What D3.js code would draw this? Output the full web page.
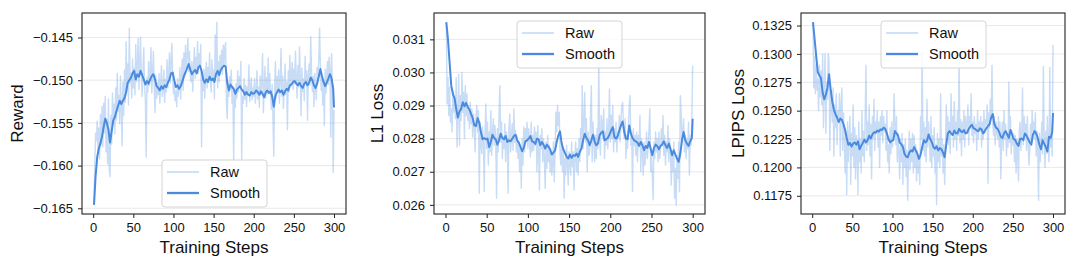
<!DOCTYPE html>
<html><head><meta charset="utf-8">
<script src="https://cdn.jsdelivr.net/npm/d3@7"></script>
<style>
body{margin:0;background:#fff;}
svg text{font-family:"Liberation Sans",Arial,Helvetica,sans-serif;fill:#111;}
</style></head>
<body><svg id="chart" width="1080" height="270"></svg>
<script>
const steps = d3.range(1, 301);
const smoothSteps = [...d3.range(1, 301, 2), 300];
const stepTicks = [0, 50, 100, 150, 200, 250, 300];

const rewardTicks = [-0.165, -0.160, -0.155, -0.150, -0.145];
const l1Ticks = [0.026, 0.027, 0.028, 0.029, 0.030, 0.031];
const lpipsTicks = [0.1175, 0.1200, 0.1225, 0.1250, 0.1275, 0.1300, 0.1325];

const rewardRaw = [
-0.1645,-0.1598,-0.1562,-0.1571,-0.1548,-0.1583,-0.1556,-0.1592,-0.1540,-0.1575,
-0.1531,-0.1578,-0.1527,-0.1562,-0.1519,-0.1584,-0.1546,-0.1598,-0.1522,-0.1605,
-0.1613,-0.1541,-0.1575,-0.1515,-0.1552,-0.1528,-0.1563,-0.1509,-0.1547,-0.1492,
-0.1537,-0.1518,-0.1551,-0.1495,-0.1532,-0.1577,-0.1502,-0.1541,-0.1488,-0.1526,
-0.1455,-0.1513,-0.1481,-0.1529,-0.1439,-0.1503,-0.1492,-0.1521,-0.1475,-0.1509,
-0.1486,-0.1517,-0.1458,-0.1502,-0.1483,-0.1451,-0.1511,-0.1479,-0.1450,-0.1497,
-0.1519,-0.1486,-0.1462,-0.1508,-0.1523,-0.1590,-0.1497,-0.1514,-0.1478,-0.1506,
-0.1488,-0.1462,-0.1515,-0.1491,-0.1466,-0.1508,-0.1538,-0.1494,-0.1521,-0.1503,
-0.1517,-0.1492,-0.1527,-0.1505,-0.1483,-0.1519,-0.1511,-0.1488,-0.1526,-0.1499,
-0.1514,-0.1476,-0.1509,-0.1492,-0.1468,-0.1503,-0.1479,-0.1457,-0.1495,-0.1516,
-0.1502,-0.1524,-0.1513,-0.1531,-0.1498,-0.1519,-0.1507,-0.1485,-0.1522,-0.1494,
-0.1475,-0.1512,-0.1468,-0.1497,-0.1459,-0.1486,-0.1471,-0.1451,-0.1490,-0.1466,
-0.1495,-0.1502,-0.1478,-0.1513,-0.1484,-0.1462,-0.1498,-0.1473,-0.1489,-0.1455,
-0.1492,-0.1469,-0.1482,-0.1458,-0.1578,-0.1496,-0.1512,-0.1487,-0.1521,-0.1493,
-0.1479,-0.1509,-0.1485,-0.1503,-0.1468,-0.1497,-0.1514,-0.1476,-0.1501,-0.1488,
-0.1522,-0.1447,-0.1494,-0.1432,-0.1509,-0.1478,-0.1502,-0.1471,-0.1486,-0.1465,
-0.1493,-0.1459,-0.1482,-0.1461,-0.1456,-0.1528,-0.1545,-0.1502,-0.1519,-0.1496,
-0.1511,-0.1488,-0.1527,-0.1507,-0.1595,-0.1518,-0.1532,-0.1504,-0.1521,-0.1489,
-0.1514,-0.1496,-0.1508,-0.1478,-0.1593,-0.1519,-0.1527,-0.1498,-0.1522,-0.1506,
-0.1531,-0.1508,-0.1517,-0.1482,-0.1525,-0.1511,-0.1497,-0.1523,-0.1509,-0.1519,
-0.1498,-0.1527,-0.1514,-0.1489,-0.1522,-0.1508,-0.1532,-0.1495,-0.1517,-0.1503,
-0.1469,-0.1538,-0.1512,-0.1484,-0.1521,-0.1497,-0.1516,-0.1474,-0.1511,-0.1492,
-0.1519,-0.1534,-0.1505,-0.1548,-0.1589,-0.1512,-0.1478,-0.1521,-0.1496,-0.1515,
-0.1488,-0.1527,-0.1501,-0.1463,-0.1519,-0.1495,-0.1533,-0.1508,-0.1481,-0.1517,
-0.1502,-0.1558,-0.1489,-0.1514,-0.1471,-0.1508,-0.1493,-0.1479,-0.1511,-0.1487,
-0.1504,-0.1466,-0.1497,-0.1521,-0.1483,-0.1508,-0.1461,-0.1495,-0.1542,-0.1486,
-0.1513,-0.1498,-0.1524,-0.1472,-0.1505,-0.1489,-0.1547,-0.1494,-0.1481,-0.1506,
-0.1449,-0.1488,-0.1513,-0.1496,-0.1531,-0.1492,-0.1508,-0.1523,-0.1485,-0.1501,
-0.1476,-0.1439,-0.1482,-0.1512,-0.1494,-0.1529,-0.1501,-0.1553,-0.1487,-0.1515,
-0.1492,-0.1478,-0.1505,-0.1473,-0.1488,-0.1567,-0.1469,-0.1512,-0.1608,-0.1535
];
const rewardSmooth = [
-0.1646,-0.1612,-0.1590,-0.1580,-0.1574,-0.1566,-0.1555,-0.1545,-0.1550,-0.1558,
-0.1573,-0.1560,-0.1547,-0.1543,-0.1536,-0.1530,-0.1524,-0.1528,-0.1524,-0.1521,
-0.1514,-0.1503,-0.1500,-0.1497,-0.1492,-0.1489,-0.1499,-0.1493,-0.1496,-0.1489,
-0.1494,-0.1499,-0.1505,-0.1501,-0.1504,-0.1499,-0.1495,-0.1493,-0.1499,-0.1507,
-0.1509,-0.1512,-0.1507,-0.1510,-0.1506,-0.1508,-0.1503,-0.1499,-0.1492,-0.1491,
-0.1500,-0.1508,-0.1506,-0.1510,-0.1507,-0.1502,-0.1495,-0.1491,-0.1486,-0.1481,
-0.1488,-0.1493,-0.1490,-0.1488,-0.1492,-0.1485,-0.1483,-0.1489,-0.1499,-0.1503,
-0.1499,-0.1502,-0.1496,-0.1500,-0.1498,-0.1502,-0.1493,-0.1489,-0.1494,-0.1488,
-0.1485,-0.1483,-0.1484,-0.1503,-0.1512,-0.1505,-0.1508,-0.1510,-0.1516,-0.1511,
-0.1509,-0.1507,-0.1511,-0.1513,-0.1517,-0.1514,-0.1517,-0.1518,-0.1514,-0.1516,
-0.1515,-0.1512,-0.1514,-0.1517,-0.1513,-0.1516,-0.1520,-0.1514,-0.1512,-0.1515,
-0.1513,-0.1519,-0.1531,-0.1518,-0.1514,-0.1511,-0.1514,-0.1512,-0.1517,-0.1513,
-0.1510,-0.1512,-0.1506,-0.1505,-0.1502,-0.1501,-0.1504,-0.1506,-0.1503,-0.1507,
-0.1509,-0.1504,-0.1502,-0.1506,-0.1503,-0.1497,-0.1500,-0.1506,-0.1509,-0.1504,
-0.1496,-0.1487,-0.1495,-0.1502,-0.1507,-0.1503,-0.1498,-0.1493,-0.1498,-0.1510,
-0.1532
];

const l1Raw = [
0.03150,0.02905,0.02985,0.02870,0.02955,0.02850,0.02890,0.02820,0.02945,0.02880,
0.02915,0.02860,0.02985,0.02775,0.02870,0.02995,0.02780,0.02930,0.02855,0.03000,
0.02880,0.02940,0.02800,0.02960,0.02870,0.02935,0.02855,0.02900,0.02830,0.02910,
0.02845,0.02890,0.02805,0.02875,0.02830,0.02760,0.02870,0.02900,0.02820,0.02885,
0.02635,0.02850,0.02780,0.02755,0.02835,0.02790,0.02640,0.02815,0.02905,0.02770,
0.02850,0.02720,0.02820,0.02760,0.02885,0.02750,0.02810,0.02860,0.02780,0.02840,
0.02795,0.02620,0.02830,0.02760,0.02870,0.02960,0.02790,0.02850,0.02740,0.02805,
0.02770,0.02845,0.02730,0.02820,0.02790,0.02635,0.02830,0.02875,0.02760,0.02810,
0.02845,0.02765,0.02890,0.02790,0.02825,0.02760,0.02810,0.02740,0.02790,0.02700,
0.02770,0.02650,0.02800,0.02720,0.02835,0.02760,0.02830,0.02790,0.02850,0.02770,
0.02830,0.02800,0.02745,0.02850,0.02760,0.02810,0.02765,0.02835,0.02780,0.02820,
0.02700,0.02840,0.02760,0.02645,0.02810,0.02770,0.02830,0.02730,0.02800,0.02740,
0.02650,0.02790,0.02710,0.02810,0.02730,0.02780,0.02700,0.02760,0.02690,0.02720,
0.02790,0.02670,0.02760,0.02880,0.02820,0.02900,0.02840,0.02880,0.02760,0.02720,
0.02790,0.02700,0.02770,0.02620,0.02740,0.02690,0.02780,0.02720,0.02660,0.02760,
0.02730,0.02690,0.02790,0.02715,0.02760,0.02645,0.02745,0.02790,0.02700,0.02770,
0.02690,0.02800,0.02730,0.02830,0.02785,0.02960,0.02770,0.02850,0.02940,0.02790,
0.02860,0.02700,0.02820,0.02750,0.02760,0.02870,0.02960,0.02730,0.02850,0.02800,
0.02730,0.02810,0.02740,0.02830,0.02770,0.03040,0.02810,0.02750,0.02870,0.02850,
0.02800,0.02890,0.02740,0.02820,0.02780,0.02860,0.02770,0.02830,0.02950,0.02790,
0.02870,0.02800,0.02900,0.02760,0.02830,0.02790,0.02850,0.02760,0.02820,0.02800,
0.02870,0.02790,0.02860,0.02900,0.02910,0.02830,0.02800,0.02860,0.02740,0.02810,
0.02770,0.02840,0.02900,0.02930,0.02780,0.02820,0.02640,0.02830,0.02780,0.02810,
0.02750,0.02820,0.02730,0.02810,0.02780,0.02870,0.02700,0.02800,0.02760,0.02690,
0.02790,0.02720,0.02750,0.02820,0.02740,0.02780,0.02830,0.02890,0.02700,0.02760,
0.02690,0.02615,0.02790,0.02740,0.02820,0.02760,0.02800,0.02730,0.02820,0.02740,
0.02770,0.02830,0.02780,0.02870,0.02750,0.02810,0.02720,0.02790,0.02760,0.02840,
0.02730,0.02800,0.02760,0.02660,0.02750,0.02700,0.02790,0.02620,0.02710,0.02600,
0.02750,0.02680,0.02790,0.02640,0.02930,0.02880,0.02790,0.02820,0.02860,0.02760,
0.02810,0.02740,0.02800,0.02770,0.02850,0.02690,0.02810,0.02780,0.02860,0.03020
];
const l1Smooth = [
0.03152,0.03100,0.03030,0.02960,0.02935,0.02922,0.02890,0.02864,0.02882,0.02890,
0.02910,0.02898,0.02908,0.02895,0.02888,0.02875,0.02862,0.02840,0.02838,0.02862,
0.02848,0.02820,0.02798,0.02802,0.02798,0.02800,0.02775,0.02790,0.02812,0.02802,
0.02798,0.02782,0.02795,0.02815,0.02802,0.02798,0.02808,0.02790,0.02795,0.02792,
0.02800,0.02808,0.02812,0.02795,0.02788,0.02775,0.02762,0.02772,0.02792,0.02795,
0.02800,0.02808,0.02792,0.02790,0.02784,0.02800,0.02798,0.02780,0.02790,0.02782,
0.02770,0.02782,0.02775,0.02768,0.02752,0.02758,0.02765,0.02790,0.02810,0.02822,
0.02785,0.02768,0.02757,0.02745,0.02740,0.02752,0.02742,0.02750,0.02748,0.02755,
0.02745,0.02760,0.02770,0.02795,0.02815,0.02802,0.02795,0.02780,0.02795,0.02812,
0.02792,0.02780,0.02785,0.02810,0.02818,0.02822,0.02795,0.02798,0.02802,0.02812,
0.02825,0.02835,0.02805,0.02800,0.02808,0.02825,0.02840,0.02852,0.02820,0.02800,
0.02798,0.02840,0.02815,0.02802,0.02795,0.02792,0.02788,0.02778,0.02790,0.02780,
0.02765,0.02778,0.02772,0.02790,0.02770,0.02750,0.02772,0.02782,0.02778,0.02768,
0.02778,0.02782,0.02792,0.02780,0.02772,0.02785,0.02770,0.02750,0.02765,0.02752,
0.02740,0.02730,0.02755,0.02795,0.02820,0.02795,0.02785,0.02778,0.02792,0.02802,
0.02860
];

const lpipsRaw = [
0.1327,0.1270,0.1298,0.1265,0.1290,0.1268,0.1278,0.1250,0.1290,0.1262,
0.1285,0.1255,0.1300,0.1235,0.1270,0.1300,0.1230,0.1275,0.1260,0.1300,
0.1292,0.1215,0.1265,0.1255,0.1240,0.1270,0.1210,0.1255,0.1235,0.1265,
0.1220,0.1250,0.1240,0.1265,0.1210,0.1255,0.1270,0.1215,0.1248,0.1225,
0.1195,0.1232,0.1176,0.1240,0.1205,0.1228,0.1245,0.1185,0.1230,0.1210,
0.1255,0.1200,0.1235,0.1190,0.1228,0.1215,0.1176,0.1240,0.1205,0.1225,
0.1195,0.1250,0.1210,0.1232,0.1205,0.1245,0.1290,0.1215,0.1240,0.1220,
0.1255,0.1210,0.1238,0.1190,0.1245,0.1225,0.1260,0.1215,0.1240,0.1230,
0.1250,0.1218,0.1240,0.1200,0.1245,0.1228,0.1250,0.1222,0.1245,0.1232,
0.1238,0.1215,0.1250,0.1205,0.1220,0.1195,0.1235,0.1212,0.1240,0.1218,
0.1228,0.1265,0.1238,0.1220,0.1245,0.1205,0.1230,0.1212,0.1190,0.1225,
0.1205,0.1230,0.1185,0.1220,0.1200,0.1225,0.1192,0.1215,0.1171,0.1210,
0.1232,0.1198,0.1225,0.1205,0.1230,0.1195,0.1228,0.1200,0.1220,0.1188,
0.1215,0.1195,0.1210,0.1185,0.1245,0.1225,0.1302,0.1215,0.1240,0.1210,
0.1235,0.1205,0.1260,0.1218,0.1240,0.1225,0.1205,0.1245,0.1200,0.1228,
0.1210,0.1235,0.1195,0.1220,0.1167,0.1230,0.1205,0.1225,0.1200,0.1265,
0.1210,0.1225,0.1195,0.1220,0.1185,0.1215,0.1255,0.1228,0.1245,0.1220,
0.1240,0.1212,0.1265,0.1230,0.1245,0.1218,0.1258,0.1225,0.1240,0.1215,
0.1250,0.1228,0.1295,0.1222,0.1242,0.1210,0.1240,0.1225,0.1250,0.1218,
0.1245,0.1230,0.1238,0.1255,0.1220,0.1245,0.1235,0.1265,0.1228,0.1240,
0.1222,0.1245,0.1230,0.1238,0.1215,0.1250,0.1225,0.1240,0.1232,0.1245,
0.1218,0.1240,0.1225,0.1250,0.1230,0.1242,0.1238,0.1255,0.1186,0.1248,
0.1235,0.1260,0.1245,0.1290,0.1238,0.1228,0.1245,0.1220,0.1240,0.1232,
0.1225,0.1245,0.1218,0.1240,0.1190,0.1228,0.1240,0.1215,0.1250,0.1225,
0.1238,0.1210,0.1230,0.1218,0.1275,0.1222,0.1245,0.1212,0.1232,0.1220,
0.1230,0.1205,0.1228,0.1195,0.1225,0.1212,0.1188,0.1232,0.1240,0.1215,
0.1228,0.1270,0.1220,0.1245,0.1232,0.1238,0.1215,0.1245,0.1222,0.1202,
0.1215,0.1238,0.1220,0.1250,0.1232,0.1240,0.1225,0.1248,0.1210,0.1232,
0.1215,0.1171,0.1230,0.1205,0.1222,0.1240,0.1212,0.1289,0.1228,0.1200,
0.1232,0.1212,0.1245,0.1220,0.1205,0.1288,0.1218,0.1235,0.1210,0.1308
];
const lpipsSmooth = [
0.13280,0.13130,0.12980,0.12840,0.12810,0.12785,0.12660,0.12600,0.12640,0.12700,
0.12820,0.12690,0.12580,0.12510,0.12470,0.12440,0.12400,0.12430,0.12420,0.12380,
0.12330,0.12260,0.12200,0.12215,0.12185,0.12210,0.12220,0.12200,0.12230,0.12160,
0.12190,0.12215,0.12245,0.12220,0.12240,0.12280,0.12255,0.12290,0.12310,0.12305,
0.12325,0.12315,0.12335,0.12330,0.12350,0.12340,0.12300,0.12250,0.12220,0.12235,
0.12240,0.12320,0.12300,0.12280,0.12220,0.12205,0.12180,0.12120,0.12095,0.12090,
0.12130,0.12150,0.12140,0.12180,0.12150,0.12120,0.12075,0.12110,0.12180,0.12240,
0.12220,0.12235,0.12290,0.12250,0.12225,0.12180,0.12165,0.12185,0.12150,0.12170,
0.12160,0.12130,0.12090,0.12200,0.12300,0.12320,0.12300,0.12285,0.12325,0.12300,
0.12300,0.12340,0.12320,0.12310,0.12330,0.12300,0.12305,0.12340,0.12360,0.12375,
0.12345,0.12340,0.12325,0.12320,0.12345,0.12335,0.12300,0.12320,0.12345,0.12365,
0.12380,0.12440,0.12470,0.12380,0.12350,0.12340,0.12310,0.12270,0.12260,0.12300,
0.12320,0.12290,0.12260,0.12330,0.12290,0.12250,0.12240,0.12210,0.12190,0.12250,
0.12255,0.12240,0.12300,0.12280,0.12250,0.12220,0.12200,0.12290,0.12320,0.12300,
0.12260,0.12200,0.12160,0.12240,0.12210,0.12180,0.12140,0.12270,0.12260,0.12310,
0.12480
];

const panels = [
  {left: 82,  right: 346,  ylabelX: 23,  ylabel: "Reward",     raw: rewardRaw, smooth: rewardSmooth, ticks: rewardTicks, fmt: d3.format(".3f"), legend: {x: 162, y: 160}},
  {left: 434, right: 705,  ylabelX: 383, ylabel: "L1 Loss",    raw: l1Raw,     smooth: l1Smooth,     ticks: l1Ticks,     fmt: d3.format(".3f"), legend: {x: 517, y: 21}},
  {left: 801, right: 1065, ylabelX: 744, ylabel: "LPIPS Loss", raw: lpipsRaw,  smooth: lpipsSmooth,  ticks: lpipsTicks,  fmt: d3.format(".4f"), legend: {x: 881, y: 21}}
];

const plotTop = 13, plotBottom = 214;
const blue = "#4a8be0";
const svg = d3.select("#chart");
svg.append("rect").attr("width", 1080).attr("height", 270).attr("fill", "#fff");

panels.forEach((p, i) => {
  const xs = d3.extent(steps);
  const xpad = (xs[1] - xs[0]) * 0.05;
  const x = d3.scaleLinear().domain([xs[0] - xpad, xs[1] + xpad]).range([p.left, p.right]);
  const all = p.raw.concat(p.smooth);
  const ys = d3.extent(all);
  const ypad = (ys[1] - ys[0]) * 0.05;
  const y = d3.scaleLinear().domain([ys[0] - ypad, ys[1] + ypad]).range([plotBottom, plotTop]);

  const g = svg.append("g");
  const clipId = "clip" + i;
  g.append("clipPath").attr("id", clipId).append("rect")
    .attr("x", p.left).attr("y", plotTop).attr("width", p.right - p.left).attr("height", plotBottom - plotTop);

  g.append("g").selectAll("line").data(p.ticks).join("line")
    .attr("x1", p.left).attr("x2", p.right)
    .attr("y1", d => y(d)).attr("y2", d => y(d))
    .attr("stroke", "#e6e6e6").attr("stroke-width", 0.9);

  const line = d3.line().x(d => x(d[0])).y(d => y(d[1]));
  const plot = g.append("g").attr("clip-path", `url(#${clipId})`);
  plot.append("path").datum(steps.map((s, k) => [s, p.raw[k]]))
    .attr("d", line).attr("fill", "none").attr("stroke", blue)
    .attr("stroke-opacity", 0.3).attr("stroke-width", 1.4).attr("stroke-linejoin", "round");
  plot.append("path").datum(smoothSteps.map((s, k) => [s, p.smooth[k]]))
    .attr("d", line).attr("fill", "none").attr("stroke", blue)
    .attr("stroke-width", 2).attr("stroke-linejoin", "round");

  const xAxis = d3.axisBottom(x).tickValues(stepTicks).tickSize(4).tickPadding(5).tickFormat(d3.format("d"));
  const gx = g.append("g").attr("transform", `translate(0,${plotBottom})`).call(xAxis);
  const yAxis = d3.axisLeft(y).tickValues(p.ticks).tickSize(4).tickPadding(5).tickFormat(p.fmt);
  const gy = g.append("g").attr("transform", `translate(${p.left},0)`).call(yAxis);
  [gx, gy].forEach(a => {
    a.select(".domain").remove();
    a.selectAll(".tick line").attr("stroke", "#222").attr("stroke-width", 1);
    a.selectAll(".tick text").attr("font-size", 13).attr("fill", "#111")
      .attr("font-family", '"Liberation Sans", Arial, sans-serif');
  });

  g.append("rect").attr("x", p.left).attr("y", plotTop)
    .attr("width", p.right - p.left).attr("height", plotBottom - plotTop)
    .attr("fill", "none").attr("stroke", "#222").attr("stroke-width", 1.1);

  g.append("text").attr("x", (p.left + p.right) / 2).attr("y", 253)
    .attr("text-anchor", "middle").attr("font-size", 17).text("Training Steps");
  g.append("text").attr("transform", `translate(${p.ylabelX},${(plotTop + plotBottom) / 2}) rotate(-90)`)
    .attr("text-anchor", "middle").attr("font-size", 17).text(p.ylabel);

  const L = g.append("g").attr("transform", `translate(${p.legend.x},${p.legend.y})`);
  L.append("rect").attr("width", 105).attr("height", 47).attr("rx", 3)
    .attr("fill", "#fff").attr("fill-opacity", 0.85).attr("stroke", "#d4d4d4");
  const items = [{name: "Raw", op: 0.3, w: 1.4}, {name: "Smooth", op: 1, w: 2}];
  items.forEach((it, k) => {
    const cy = 12 + k * 21;
    L.append("line").attr("x1", 5).attr("x2", 37).attr("y1", cy).attr("y2", cy)
      .attr("stroke", blue).attr("stroke-opacity", it.op).attr("stroke-width", it.w + 0.3);
    L.append("text").attr("x", 48).attr("y", cy + 5).attr("font-size", 14.5).text(it.name);
  });
});
</script></body></html>
